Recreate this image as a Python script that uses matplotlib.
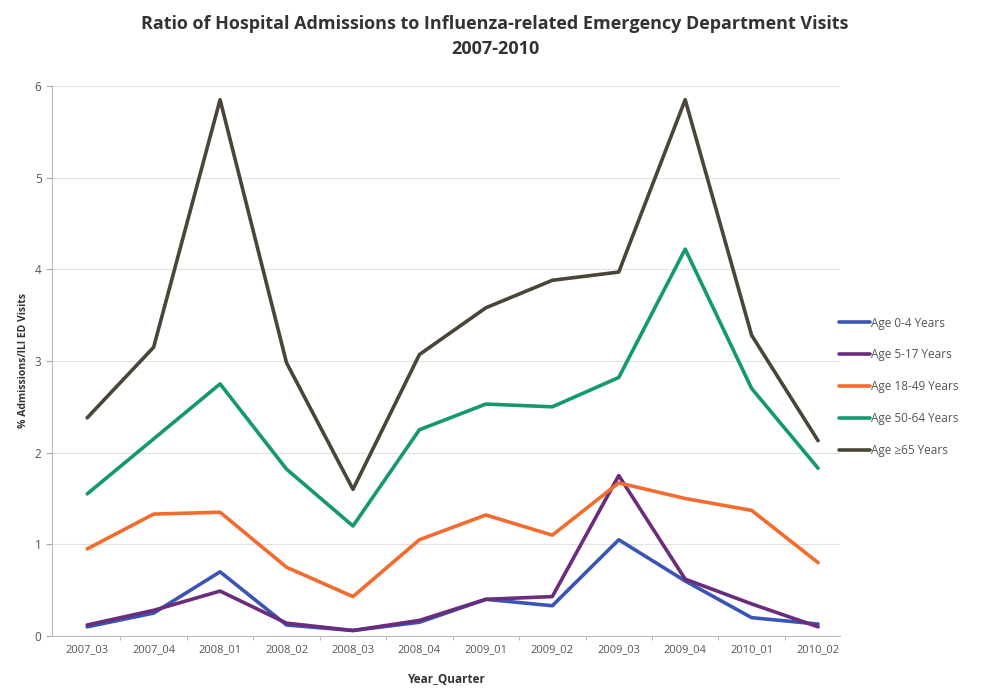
import matplotlib
matplotlib.use("Agg")
import matplotlib.pyplot as plt

quarters = ["2007_03", "2007_04", "2008_01", "2008_02", "2008_03", "2008_04",
            "2009_01", "2009_02", "2009_03", "2009_04", "2010_01", "2010_02"]

age_0_4   = [0.10, 0.25, 0.70, 0.12, 0.06, 0.15, 0.40, 0.33, 1.05, 0.60, 0.20, 0.13]
age_5_17  = [0.12, 0.28, 0.49, 0.14, 0.06, 0.17, 0.40, 0.43, 1.75, 0.62, 0.35, 0.10]
age_18_49 = [0.95, 1.33, 1.35, 0.75, 0.43, 1.05, 1.32, 1.10, 1.67, 1.50, 1.37, 0.80]
age_50_64 = [1.55, 2.15, 2.75, 1.82, 1.20, 2.25, 2.53, 2.50, 2.82, 4.22, 2.70, 1.83]
age_65    = [2.38, 3.15, 5.85, 2.98, 1.60, 3.07, 3.58, 3.88, 3.97, 5.85, 3.28, 2.13]

series = [
    ("Age 0-4 Years", age_0_4, "#3a55b4"),
    ("Age 5-17 Years", age_5_17, "#6a2c7c"),
    ("Age 18-49 Years", age_18_49, "#f36b2f"),
    ("Age 50-64 Years", age_50_64, "#14996c"),
    ("Age \u226565 Years", age_65, "#4b4537"),
]

plt.rcParams["font.family"] = ["Open Sans", "DejaVu Sans"]

fig = plt.figure(figsize=(9.9, 6.91), dpi=100)
ax = fig.add_axes([0.0525, 0.0796, 0.796, 0.796])

x = list(range(len(quarters)))
for name, vals, col in series:
    ax.plot(x, vals, color=col, lw=2.6, label=name, solid_capstyle="round")

ax.set_ylim(0, 6)
ax.set_xlim(-0.53, 11.33)
ax.set_yticks(range(7))
ax.set_xticks(x)
ax.set_xticklabels(quarters, fontsize=8, color="#555555")
# tick marks between categories, Excel style
ax.set_xticks([i + 0.5 for i in x[:-1]], minor=True)
ax.tick_params(axis="x", which="major", length=0, pad=6)
ax.tick_params(axis="x", which="minor", length=3, color="#aaaaaa")
ax.tick_params(axis="y", labelsize=8.5, colors="#555555", length=4)
ax.tick_params(axis="y", color="#aaaaaa")
ax.grid(axis="y", color="#e2e2e2", lw=0.8)
ax.set_axisbelow(True)
for s in ["top", "right"]:
    ax.spines[s].set_visible(False)
for s in ["left", "bottom"]:
    ax.spines[s].set_color("#bbbbbb")

ax.set_xlabel("Year_Quarter", fontsize=8.5, fontweight="bold", color="#333333")
ax.xaxis.set_label_coords(0.5, -0.068)
ax.set_ylabel("% Admissions/ILI ED Visits", fontsize=7.5, fontweight="bold", color="#333333")

fig.suptitle("Ratio of Hospital Admissions to Influenza-related Emergency Department Visits\n2007-2010",
             x=0.5, y=0.978, fontsize=13, fontweight="bold", color="#333333", linespacing=1.45)

leg = ax.legend(loc="center left", bbox_to_anchor=(0.985, 0.453), frameon=False,
                fontsize=8.5, handlelength=2.6, handletextpad=0.1, labelspacing=1.6,
                labelcolor="#555555")

fig.savefig("out.png", dpi=100, facecolor="white")
